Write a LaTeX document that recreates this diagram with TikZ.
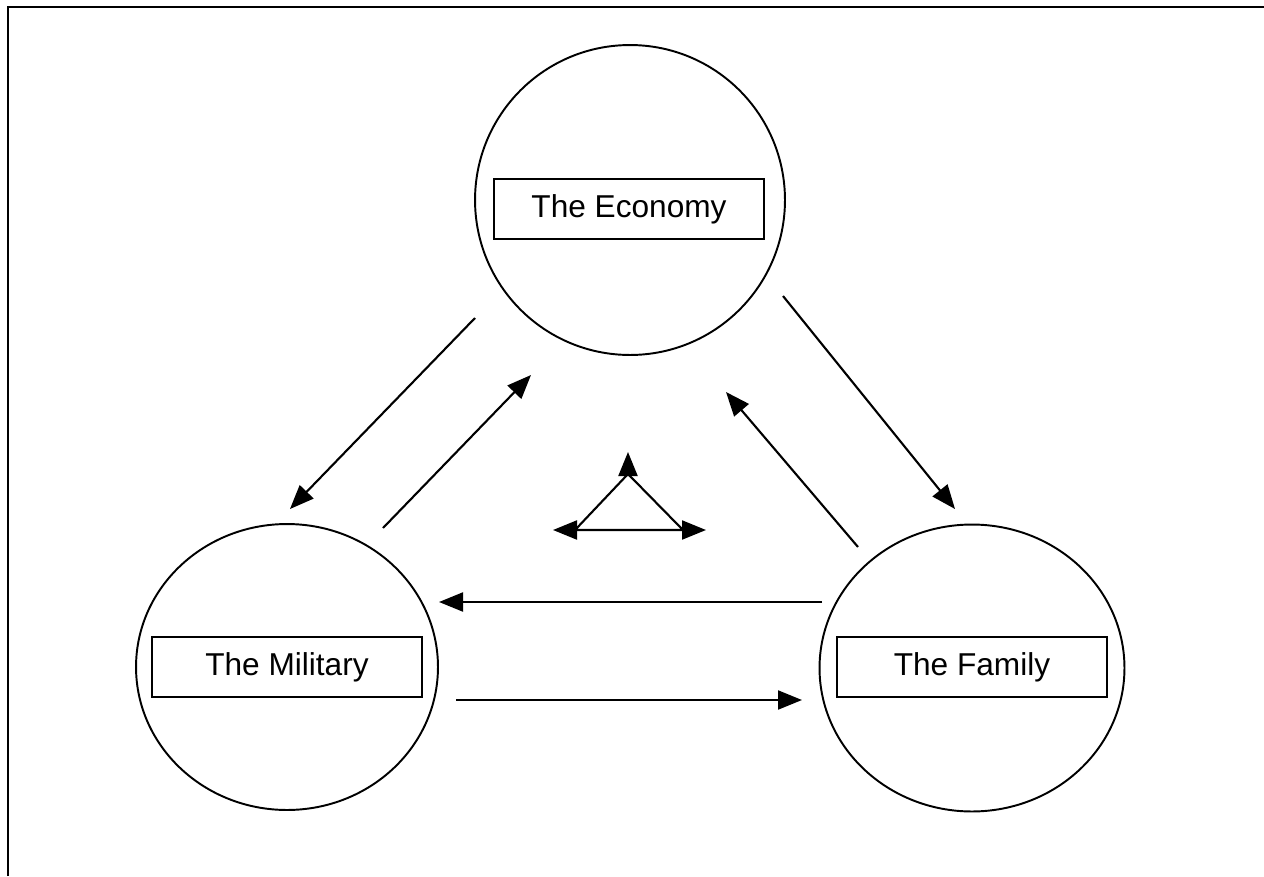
\documentclass[tikz,border=0pt]{standalone}
\usepackage{fontspec}
\setmainfont{Liberation Sans}
\usetikzlibrary{arrows.meta,shapes.geometric}
\begin{document}
\begin{tikzpicture}[x=0.02cm,y=-0.02cm,
    sphere/.style={draw,ellipse,line width=1.1pt,inner sep=0pt},
    namebox/.style={draw,line width=1.1pt,minimum width=5.4cm,minimum height=1.2cm,
      font=\fontsize{18}{21}\selectfont},
    link/.style={line width=1.2pt,-{Triangle[length=0.48cm,width=0.38cm]}}]
  \useasboundingbox (0,0) rectangle (1264,876);
  \draw[line width=1.1pt] (8,876) -- (8,7) -- (1264,7);
  % the three spheres
  \node[sphere,minimum width=6.2cm,minimum height=6.2cm] (eco) at (630,200) {};
  \node[sphere,minimum width=6.04cm,minimum height=5.72cm] (mil) at (287,667) {};
  \node[sphere,minimum width=6.1cm,minimum height=5.74cm] (fam) at (972,668) {};
  \node[namebox] (ecobox) at (629,209) {The Economy};
  \node[namebox] (milbox) at (287,667) {The Military};
  \node[namebox] (fambox) at (972,667) {The Family};
  % arrow ends
  \coordinate (em1) at (475,318);   \coordinate (em2) at (290,509);
  \coordinate (me1) at (383,528);   \coordinate (me2) at (531,375);
  \coordinate (ef1) at (783,296);   \coordinate (ef2) at (955,509);
  \coordinate (fe1) at (858,547);   \coordinate (fe2) at (726,392);
  \coordinate (fm1) at (822,602);   \coordinate (fm2) at (439,602);
  \coordinate (mf1) at (456,700);   \coordinate (mf2) at (802,700);
  \draw[link] (em1) -- (em2);
  \draw[link] (me1) -- (me2);
  \draw[link] (ef1) -- (ef2);
  \draw[link] (fe1) -- (fe2);
  \draw[link] (fm1) -- (fm2);
  \draw[link] (mf1) -- (mf2);
  % small triangle in the middle
  \coordinate (tl) at (575,530);  \coordinate (tr) at (683,530);
  \coordinate (tt) at (628,474);
  \coordinate (tlt) at (553,530); \coordinate (trt) at (706,530);
  \coordinate (ttt) at (628,452);
  \draw[line width=1.2pt] (tr) -- (tt) -- (tl) -- cycle;
  \draw[link] (tl) -- (tlt);
  \draw[link] (tr) -- (trt);
  \draw[link] (tt) -- (ttt);
\end{tikzpicture}
\end{document}
